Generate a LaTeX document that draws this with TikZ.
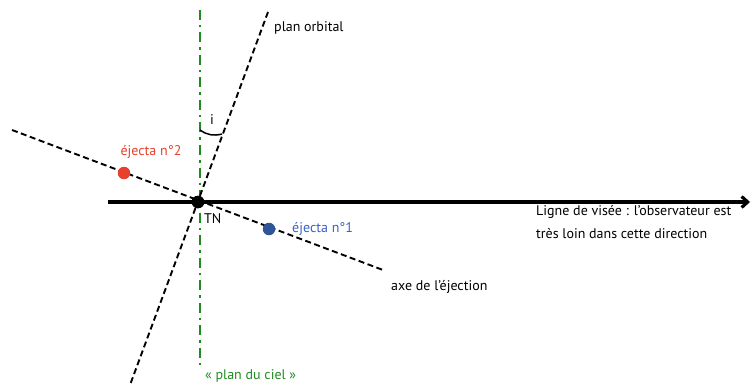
\documentclass[tikz,border=0pt]{standalone}
\usepackage{fontspec}
\setmainfont{PT Sans}
\usepackage{xcolor}
\usetikzlibrary{arrows.meta,positioning,calc}
\definecolor{ejred}{HTML}{E8402A}
\definecolor{ejblue}{HTML}{2F5597}
\definecolor{ejbluetxt}{HTML}{3A5FCD}
\definecolor{cielgreen}{HTML}{1E8C1E}
\tikzset{
  lbl/.style={font=\fontsize{14}{23}\selectfont,inner sep=1pt},
  dotpt/.style={circle,inner sep=0pt,minimum size=12.5pt},
  dashln/.style={dash pattern=on 6pt off 3.5pt,line width=1.9pt},
  arr/.style={-{Straight Barb[length=6pt,width=11pt]},line width=3.2pt},
}
\begin{document}
\begin{tikzpicture}[x=1pt,y=-1pt]
\useasboundingbox (0,0) rectangle (752,385);
% points
\node[dotpt,fill=black] (tn) at (198,202) {};
\coordinate (los0) at (108,202);
\coordinate (los1) at (750,202);
\coordinate (ciel0) at (200,10);
\coordinate (ciel1) at (200,368);
\coordinate (orb0) at (268,12);
\coordinate (orb1) at (130,385);
\coordinate (ax0) at (12,130);
\coordinate (ax1) at (383,270);
% lines
\draw[cielgreen,line width=2.4pt,dash pattern=on 10pt off 5pt on 2.5pt off 5pt] (ciel0) -- (ciel1);
\draw[dashln] (orb0) -- (orb1);
\draw[dashln] (ax0) -- (ax1);
\draw[arr] (los0) -- (los1);
\node[dotpt,fill=black] at (tn) {};
% ejecta
\node[dotpt,fill=ejred] (ej2) at (124,173) {};
\node[dotpt,fill=ejblue] (ej1) at (269,229) {};
\node[lbl,text=ejred] (ej2t) at (151,152) {éjecta n°2};
\node[lbl,text=ejbluetxt,anchor=west] (ej1t) at (291,229) {éjecta n°1};
% angle i
\draw[line width=1.5pt] (200,130) to[bend right=25] (222,134);
\node[lbl] (ang) at (212,120) {i};
% labels
\node[lbl,anchor=west] (tnt) at (203,219) {TN};
\node[lbl,anchor=west] (orbt) at (273,28) {plan orbital};
\node[lbl,anchor=north west,align=left] (lost) at (535,204) {Ligne de visée : l’observateur est\\très loin dans cette direction};
\node[lbl,anchor=west] (axt) at (390,287) {axe de l’éjection};
\node[lbl,anchor=west,text=cielgreen] (cielt) at (204,376) {« plan du ciel »};
\end{tikzpicture}
\end{document}
